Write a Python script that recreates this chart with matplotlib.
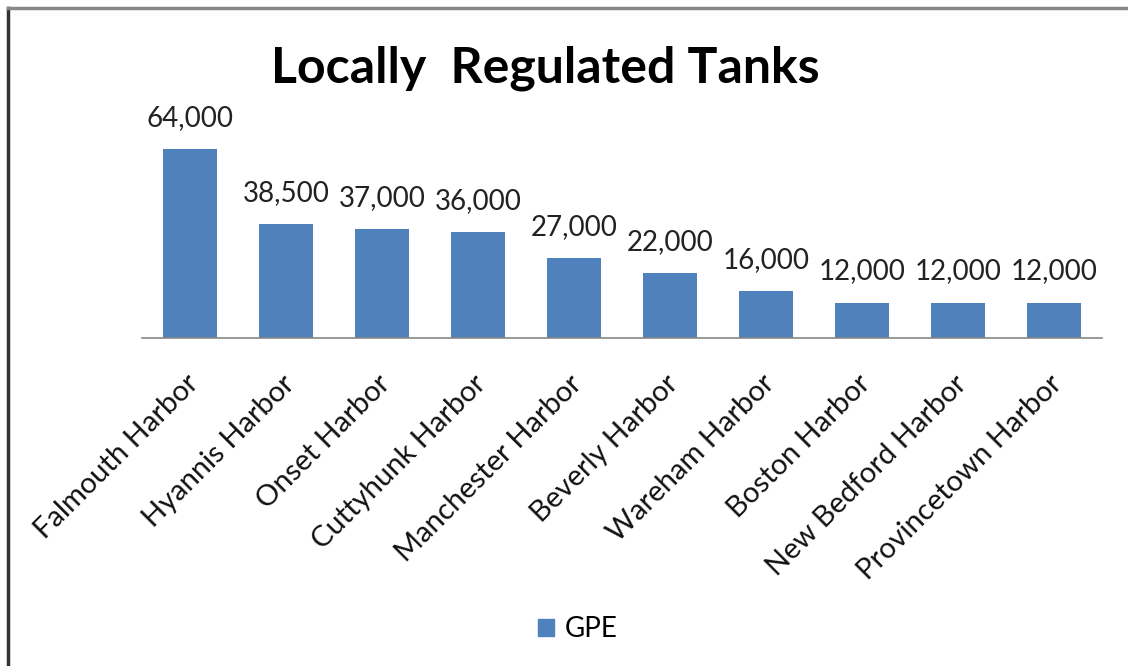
import matplotlib.pyplot as plt
from matplotlib.patches import Patch
from matplotlib.lines import Line2D

harbors = ['Falmouth Harbor', 'Hyannis Harbor', 'Onset Harbor', 'Cuttyhunk Harbor',
           'Manchester Harbor', 'Beverly Harbor', 'Wareham Harbor', 'Boston Harbor',
           'New Bedford Harbor', 'Provincetown Harbor']
gpe = [64000, 38500, 37000, 36000, 27000, 22000, 16000, 12000, 12000, 12000]

bar_color = '#4F81BD'
font = 'Lato'

W, H = 1128, 666
fig = plt.figure(figsize=(W/100, H/100), dpi=100)
ax = fig.add_axes([142/W, 1 - 338/H, 960/W, (338 - 101.75)/H])

x = list(range(len(harbors)))
bars = ax.bar(x, gpe, width=0.57, color=bar_color, label='GPE')
ax.set_xlim(-0.5, len(harbors) - 0.5)
ax.set_ylim(0, 80000)

for rect, v in zip(bars, gpe):
    ax.annotate(f'{v:,}', (rect.get_x() + rect.get_width()/2, v),
                xytext=(0, 13), textcoords='offset points',
                ha='center', va='bottom', fontsize=20, family=font, color='#222222')

ax.set_xticks(x)
ax.set_xticklabels([])
ax.tick_params(length=0)
ax.set_yticks([])
for s in ['top', 'right', 'left']:
    ax.spines[s].set_visible(False)
ax.spines['bottom'].set_color('#888888')
ax.spines['bottom'].set_linewidth(1.2)

for xi, name in zip(x, harbors):
    ax.annotate(name, (xi, 0), xytext=(3, -30), textcoords='offset points',
                rotation=45, rotation_mode='anchor', ha='right', va='center',
                fontsize=21, family=font, color='#111111')

fig.text(545/W, 1 - 68/H, 'Locally  Regulated Tanks', ha='center', va='center',
         fontsize=36, fontweight='bold', family=font)

fig.legend(handles=[Patch(color=bar_color, label='GPE')], loc='center',
           bbox_to_anchor=(578/W, 1 - 629/H), frameon=False,
           prop={'family': font, 'size': 20}, handlelength=0.55, handleheight=0.55,
           handletextpad=0.4)

# window frame on the left and top
fig.add_artist(Line2D([8/W, 8/W], [0, 1 - 8/H], color='#333333', lw=2.5))
fig.add_artist(Line2D([8/W, 1], [1 - 8/H, 1 - 8/H], color='#888888', lw=2.5))

fig.savefig('out.png', dpi=100)
